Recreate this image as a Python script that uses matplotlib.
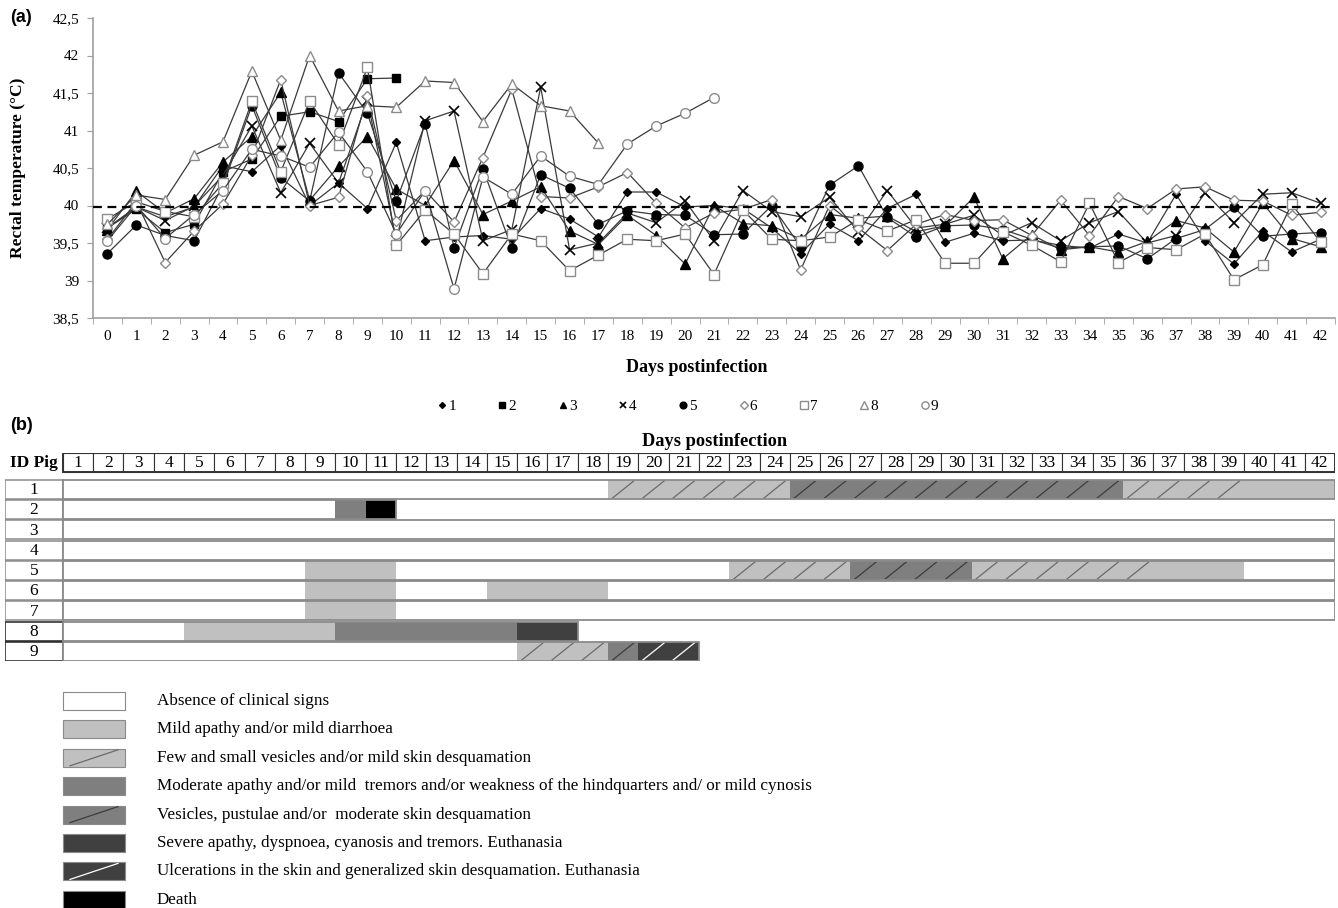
import matplotlib
matplotlib.use("Agg")
import matplotlib.pyplot as plt
from matplotlib.patches import Rectangle
from matplotlib.lines import Line2D
import numpy as np

plt.rcParams["font.family"] = ["Liberation Serif", "DejaVu Serif"]

# ---- panel (a): rectal temperature per pig ----
days = list(range(43))
pig_ids = ["1", "2", "3", "4", "5", "6", "7", "8", "9"]
threshold = 39.98

temp_1 = [39.70, 39.98, 39.85, 39.98, 40.53, 40.45, 40.80, 40.00, 40.30, 39.96, 40.84,
          39.53, 39.58, 39.60, 39.55, 39.96, 39.82, 39.58, 40.18, 40.18, 39.98, 40.00,
          39.96, 39.70, 39.36, 39.75, 39.53, 39.96, 40.15, 39.51, 39.63, 39.53, 39.54,
          39.47, 39.43, 39.62, 39.50, 40.15, 39.53, 39.22, 39.66, 39.38, 39.55]
temp_2 = [39.70, 39.95, 39.64, 39.75, 40.45, 40.62, 41.19, 41.25, 41.12, 41.69, 41.70]
temp_3 = [39.68, 40.19, 39.90, 40.09, 40.58, 40.92, 41.51, 40.07, 40.52, 40.92, 40.22,
          40.00, 40.60, 39.88, 40.06, 40.25, 39.66, 39.48, 39.87, 39.60, 39.22, 40.00,
          39.76, 39.73, 39.55, 39.88, 39.83, 39.86, 39.65, 39.73, 40.11, 39.29, 39.61,
          39.41, 39.45, 39.38, 39.52, 39.80, 39.70, 39.38, 40.03, 39.56, 39.45]
temp_4 = [39.70, 39.98, 39.80, 39.99, 40.40, 41.06, 40.17, 40.83, 40.30, 41.40, 39.54,
          41.13, 41.26, 39.53, 39.68, 41.58, 39.41, 39.50, 39.90, 39.77, 40.06, 39.53,
          40.20, 39.92, 39.85, 40.11, 39.65, 40.20, 39.70, 39.75, 39.87, 39.60, 39.77,
          39.53, 39.77, 39.92, 39.50, 39.60, 40.17, 39.77, 40.15, 40.17, 40.03]
temp_5 = [39.36, 39.74, 39.60, 39.53, 40.27, 41.33, 40.37, 40.06, 41.77, 41.23, 40.06,
          41.09, 39.44, 40.49, 39.43, 40.41, 40.23, 39.75, 39.93, 39.88, 39.87, 39.61,
          39.62, 40.00, 39.45, 40.27, 40.53, 39.84, 39.58, 39.73, 39.74, 39.68, 39.55,
          39.43, 39.45, 39.46, 39.29, 39.56, 39.68, 39.98, 39.59, 39.62, 39.64]
temp_6 = [39.55, 40.05, 39.24, 39.66, 40.02, 40.67, 41.68, 40.00, 40.11, 41.46, 39.80,
          40.20, 39.78, 40.64, 41.55, 40.12, 40.10, 40.25, 40.44, 40.03, 39.70, 39.90,
          39.95, 40.08, 39.14, 40.00, 39.70, 39.40, 39.75, 39.88, 39.80, 39.81, 39.60,
          40.07, 39.60, 40.12, 39.96, 40.22, 40.25, 40.07, 40.06, 39.87, 39.91]
temp_7 = [39.82, 40.05, 39.92, 39.85, 40.30, 41.39, 40.45, 41.39, 40.81, 41.84, 39.47,
          39.94, 39.62, 39.09, 39.62, 39.53, 39.13, 39.34, 39.55, 39.53, 39.62, 39.08,
          39.94, 39.55, 39.53, 39.58, 39.81, 39.66, 39.81, 39.23, 39.23, 39.65, 39.47,
          39.25, 40.03, 39.24, 39.44, 39.41, 39.62, 39.01, 39.21, 40.02, 39.51]
temp_8 = [39.75, 40.14, 40.08, 40.67, 40.85, 41.79, 40.87, 42.00, 41.26, 41.33, 41.31,
          41.66, 41.64, 41.12, 41.62, 41.33, 41.26, 40.83]
temp_9 = [39.53, 40.00, 39.56, 39.88, 40.20, 40.75, 40.66, 40.51, 40.98, 40.45, 39.62,
          40.20, 38.89, 40.38, 40.15, 40.66, 40.39, 40.28, 40.82, 41.06, 41.23, 41.44]

# ---- panel (b): clinical signs, (first day, last day, sign index) ----
sign_labels = [
    "Absence of clinical signs",
    "Mild apathy and/or mild diarrhoea",
    "Few and small vesicles and/or mild skin desquamation",
    "Moderate apathy and/or mild  tremors and/or weakness of the hindquarters and/ or mild cynosis",
    "Vesicles, pustulae and/or  moderate skin desquamation",
    "Severe apathy, dyspnoea, cyanosis and tremors. Euthanasia",
    "Ulcerations in the skin and generalized skin desquamation. Euthanasia",
    "Death",
]
signs_1 = [(1, 18, 0), (19, 24, 2), (25, 35, 4), (36, 39, 2), (40, 42, 1)]
signs_2 = [(1, 9, 0), (10, 10, 3), (11, 11, 7)]
signs_3 = [(1, 42, 0)]
signs_4 = [(1, 42, 0)]
signs_5 = [(1, 8, 0), (9, 11, 1), (12, 22, 0), (23, 26, 2), (27, 30, 4), (31, 36, 2),
           (37, 39, 1), (40, 42, 0)]
signs_6 = [(1, 8, 0), (9, 11, 1), (12, 14, 0), (15, 18, 1), (19, 42, 0)]
signs_7 = [(1, 8, 0), (9, 11, 1), (12, 42, 0)]
signs_8 = [(1, 4, 0), (5, 9, 1), (10, 15, 3), (16, 17, 5)]
signs_9 = [(1, 15, 0), (16, 18, 2), (19, 19, 4), (20, 21, 6)]

sign_fill = ["white", "#c0c0c0", "#c0c0c0", "#7f7f7f", "#7f7f7f", "#404040", "#404040", "black"]
sign_hatch = [None, None, "#6a6a6a", None, "#3c3c3c", None, "white", None]

W, H = 1338, 908
fig = plt.figure(figsize=(W / 100, H / 100), dpi=100)


def fx(px):
    return px / W


def fy(py):
    return 1 - py / H


# ----------------- panel (a) -----------------
ax = fig.add_axes([fx(93), fy(318), fx(1335) - fx(93), fy(18) - fy(318)])

grey_edge = "#8c8c8c"
styles = [
    dict(marker="D", ms=4, mfc="black", mec="black"),
    dict(marker="s", ms=6, mfc="black", mec="black"),
    dict(marker="^", ms=6.5, mfc="black", mec="black"),
    dict(marker="x", ms=6.5, mec="black", mew=1.2),
    dict(marker="o", ms=6.5, mfc="black", mec="black"),
    dict(marker="D", ms=5, mfc="white", mec=grey_edge),
    dict(marker="s", ms=7, mfc="white", mec=grey_edge),
    dict(marker="^", ms=7.5, mfc="white", mec=grey_edge),
    dict(marker="o", ms=7, mfc="white", mec=grey_edge),
]
series = [temp_1, temp_2, temp_3, temp_4, temp_5, temp_6, temp_7, temp_8, temp_9]

for vals, st in zip(series, styles):
    ax.plot(days[:len(vals)], vals, color="#3a3a3a", lw=0.9, zorder=3, **st)

ax.axhline(threshold, color="black", ls=(0, (4, 2.5)), lw=1.6, zorder=4)

ax.set_xlim(-0.5, 42.5)
ax.set_ylim(38.5, 42.5)
yt = np.arange(38.5, 42.51, 0.5)
ax.set_yticks(yt)
ax.set_yticklabels([f"{v:g}".replace(".", ",") for v in yt], fontsize=11)
ax.set_xticks(days)
ax.set_xticklabels([str(d) for d in days], fontsize=11)
ax.set_xticks(np.arange(-0.5, 43, 1), minor=True)
ax.tick_params(axis="x", which="major", length=0, pad=9)
ax.tick_params(axis="x", which="minor", length=4, color="#a0a0a0")
ax.tick_params(axis="y", length=4, color="#a0a0a0", pad=6)
for s in ["top", "right"]:
    ax.spines[s].set_visible(False)
for s in ["left", "bottom"]:
    ax.spines[s].set_color("#a0a0a0")
    ax.spines[s].set_linewidth(1.2)

fig.text(fx(18), fy(168), "Rectal temperature (°C)", rotation=90, ha="center",
         va="center", fontsize=12.5, fontweight="bold")
fig.text(fx(697), fy(368), "Days postinfection", ha="center", va="center",
         fontsize=13, fontweight="bold")

handles = [Line2D([], [], ls="none", **st) for st in styles]
fig.legend(handles, pig_ids, loc="center", bbox_to_anchor=(fx(688), fy(406)), ncol=9,
           frameon=False, handlelength=0.6, handletextpad=0.1, columnspacing=2.75,
           fontsize=11, markerscale=0.75)

fig.text(fx(10), fy(18), "(a)", fontsize=13, fontweight="bold", family="Liberation Sans",
         ha="left", va="center")
fig.text(fx(10), fy(425), "(b)", fontsize=13, fontweight="bold", family="Liberation Sans",
         ha="left", va="center")

# ----------------- panel (b) -----------------
axb = fig.add_axes([fx(5), fy(660.6), fx(1335) - fx(5), fy(453) - fy(660.6)])
id_w = 1.91
axb.set_xlim(-id_w, 42)
axb.set_ylim(9.45, -0.8)
axb.axis("off")

head_top, head_h = -0.8, 0.936
for d in range(1, 43):
    axb.add_patch(Rectangle((d - 1, head_top), 1, head_h, fc="white", ec="#333333", lw=0.8))
    axb.text(d - 0.5, head_top + head_h / 2 + 0.03, str(d), ha="center", va="center",
             fontsize=12.5)
axb.add_patch(Rectangle((0, head_top), 42, head_h, fc="none", ec="#333333", lw=1.4))
axb.text(-id_w / 2, head_top + head_h / 2 + 0.03, "ID Pig", ha="center", va="center",
         fontsize=12.5, fontweight="bold")
axb.text(21.5, head_top - 0.55, "Days postinfection", ha="center", va="center",
         fontsize=13.2, fontweight="bold", clip_on=False)

all_signs = [signs_1, signs_2, signs_3, signs_4, signs_5, signs_6, signs_7, signs_8, signs_9]
rh = 0.47
for k, segs in enumerate(all_signs, start=1):
    edge_id = "#222222" if k >= 8 else "#8a8a8a"
    axb.add_patch(Rectangle((-id_w, k - rh), id_w, 2 * rh, fc="white", ec=edge_id, lw=1.1))
    axb.text(-id_w / 2, k + 0.03, pig_ids[k - 1], ha="center", va="center", fontsize=12.5)
    for start, end, s in segs:
        axb.add_patch(Rectangle((start - 1, k - rh), end - start + 1, 2 * rh,
                                fc=sign_fill[s], ec="none", zorder=2))
        if sign_hatch[s]:
            for d in range(start, end + 1):
                axb.plot([d - 0.85, d - 0.15], [k + rh - 0.05, k - rh + 0.05],
                         color=sign_hatch[s], lw=0.9, zorder=3)
    last = segs[-1][1]
    axb.add_patch(Rectangle((0, k - rh), last, 2 * rh, fc="none", ec="#8a8a8a", lw=1.3,
                            zorder=4))

# legend of clinical signs
axl = fig.add_axes([0, 0, 1, 1])
axl.set_xlim(0, W)
axl.set_ylim(H, 0)
axl.axis("off")
for i, lab in enumerate(sign_labels):
    yc = 701 + i * 28.4
    axl.add_patch(Rectangle((63, yc - 9), 62, 18, fc=sign_fill[i], ec="#8a8a8a", lw=0.8))
    if sign_hatch[i]:
        axl.plot([70, 118], [yc + 8, yc - 8], color=sign_hatch[i], lw=0.9)
    axl.text(157, yc, lab, ha="left", va="center", fontsize=12.3)

fig.savefig("out.png", dpi=100)
